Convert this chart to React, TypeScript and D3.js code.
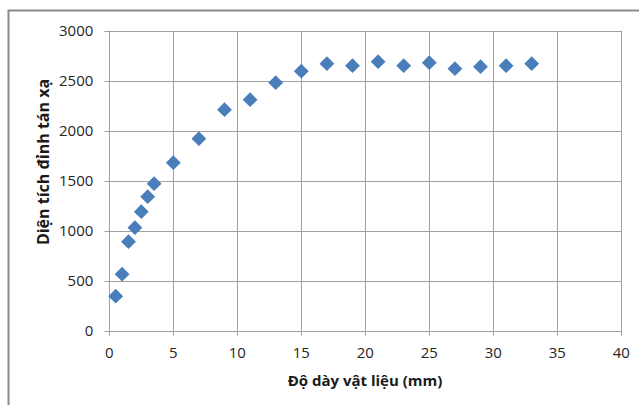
import React, { useEffect, useRef } from "react";
import * as d3 from "d3";

const thickness = [0.5, 1, 1.5, 2, 2.5, 3, 3.5, 5, 7, 9, 11, 13, 15, 17, 19, 21, 23, 25, 27, 29, 31, 33];
const peakArea = [345, 565, 890, 1030, 1190, 1340, 1470, 1680, 1920, 2210, 2310, 2480, 2595, 2670, 2650, 2690, 2650, 2680, 2620, 2640, 2650, 2670];
const xTicks = [0, 5, 10, 15, 20, 25, 30, 35, 40];
const yTicks = [0, 500, 1000, 1500, 2000, 2500, 3000];
const xTitle = "Độ dày vật liệu (mm)";
const yTitle = "Diện tích đỉnh tán xạ";

const App = () => {
  const ref = useRef<SVGSVGElement>(null);

  useEffect(() => {
    const width = 639;
    const height = 405;
    const margin = { top: 30.7, right: 17.7, bottom: 74.3, left: 109.3 };
    const font = "'Open Sans', 'Liberation Sans', sans-serif";

    const svg = d3.select(ref.current);
    svg.selectAll("*").remove();

    // chart frame (only left and top edges are visible in the crop)
    svg.append("rect").attr("width", width).attr("height", height).attr("fill", "#ffffff");
    svg
      .append("path")
      .attr("d", `M8.5,${height + 2} V10.5 H${width + 2}`)
      .attr("fill", "none")
      .attr("stroke", "#8a8a8a")
      .attr("stroke-width", 2);

    const x = d3.scaleLinear().domain([0, 40]).range([margin.left, width - margin.right]);
    const y = d3.scaleLinear().domain([0, 3000]).range([height - margin.bottom, margin.top]);

    const grid = svg.append("g").attr("stroke", "#a0a0a0").attr("stroke-width", 1);
    grid
      .selectAll("line.v")
      .data(xTicks)
      .join("line")
      .attr("x1", (d) => Math.round(x(d)) + 0.5)
      .attr("x2", (d) => Math.round(x(d)) + 0.5)
      .attr("y1", y(3000))
      .attr("y2", y(0) + 5);
    grid
      .selectAll("line.h")
      .data(yTicks)
      .join("line")
      .attr("class", "h")
      .attr("x1", x(0) - 5)
      .attr("x2", x(40))
      .attr("y1", (d) => Math.round(y(d)) + 0.5)
      .attr("y2", (d) => Math.round(y(d)) + 0.5);

    svg
      .append("g")
      .selectAll("text")
      .data(yTicks)
      .join("text")
      .attr("x", x(0) - 16)
      .attr("y", (d) => y(d))
      .attr("dy", "0.35em")
      .attr("text-anchor", "end")
      .attr("font-family", font)
      .attr("font-size", 15)
      .attr("fill", "#262626")
      .text((d) => d);

    svg
      .append("g")
      .selectAll("text")
      .data(xTicks)
      .join("text")
      .attr("x", (d) => x(d))
      .attr("y", y(0) + 22)
      .attr("dy", "0.35em")
      .attr("text-anchor", "middle")
      .attr("font-family", font)
      .attr("font-size", 15)
      .attr("fill", "#262626")
      .text((d) => d);

    svg
      .append("text")
      .attr("x", 365)
      .attr("y", 381)
      .attr("dy", "0.35em")
      .attr("text-anchor", "middle")
      .attr("font-family", font)
      .attr("font-size", 15)
      .attr("font-weight", "bold")
      .attr("fill", "#1a1a1a")
      .text(xTitle);

    svg
      .append("text")
      .attr("transform", `translate(43,162) rotate(-90)`)
      .attr("dy", "0.35em")
      .attr("text-anchor", "middle")
      .attr("font-family", font)
      .attr("font-size", 16)
      .attr("font-weight", "bold")
      .attr("fill", "#1a1a1a")
      .text(yTitle);

    const diamond = d3.symbol().type(d3.symbolDiamond2).size(140);
    svg
      .append("g")
      .selectAll("path")
      .data(thickness.map((t, i) => ({ t, v: peakArea[i] })))
      .join("path")
      .attr("transform", (d) => `translate(${x(d.t)},${y(d.v)})`)
      .attr("d", diamond)
      .attr("fill", "#4a7ebb");
  }, []);

  return <svg ref={ref} width={639} height={405} style={{ position: "absolute", left: 0, top: 0 }} />;
};

export default App;
